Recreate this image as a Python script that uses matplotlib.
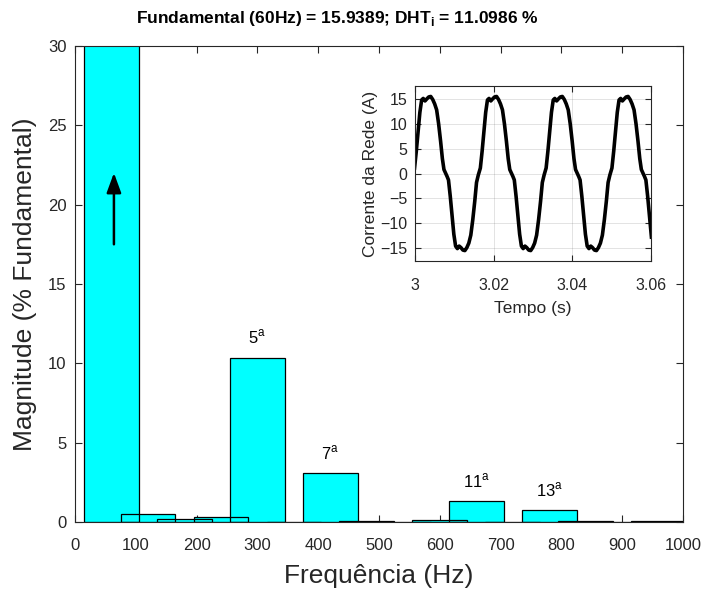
"""
Espectro harmonico da corrente da rede com a forma de onda no detalhe
"""

import matplotlib.pyplot as plt
from matplotlib.ticker import FixedLocator, FixedFormatter

plt.rcParams['font.family'] = ['Liberation Sans', 'DejaVu Sans']
plt.rcParams['mathtext.fontset'] = 'custom'
plt.rcParams['mathtext.rm'] = 'Liberation Sans'

# Espectro (% da fundamental), harmonicos de 60 Hz
freqs = [60, 120, 180, 240, 300, 360, 420, 480, 540, 600, 660, 720, 780, 840, 900, 960]
mags = [100.0, 0.49, 0.17, 0.32, 10.35, 0.0, 3.08, 0.06, 0.0, 0.15, 1.31, 0.0, 0.76, 0.06, 0.0, 0.05]

# Rotulos das harmonicas principais
label_freqs = [300, 420, 660, 780]
label_mags = [10.35, 3.08, 1.31, 0.76]
label_texts = ['5', '7', '11', '13']

x_ticks = [0, 100, 200, 300, 400, 500, 600, 700, 800, 900, 1000]
y_ticks = [0, 5, 10, 15, 20, 25, 30]

t_ms = [
    0.00, 0.45, 0.90, 1.35, 1.80, 2.20, 2.65, 3.10, 3.60, 4.10, 4.60, 5.10,
    5.60, 6.10, 6.60, 7.05, 7.45, 7.85, 8.25, 8.60, 9.05, 9.50, 9.95, 10.40,
    10.85, 11.30, 11.75, 12.25, 12.75, 13.25, 13.75, 14.25, 14.75, 15.25, 15.70, 16.15,
    16.67, 17.12, 17.57, 18.02, 18.47, 18.87, 19.32, 19.77, 20.27, 20.77, 21.27, 21.77,
    22.27, 22.77, 23.27, 23.72, 24.12, 24.52, 24.92, 25.27, 25.72, 26.17, 26.62, 27.07,
    27.52, 27.97, 28.42, 28.92, 29.42, 29.92, 30.42, 30.92, 31.42, 31.92, 32.37, 32.82,
    33.33, 33.78, 34.23, 34.68, 35.13, 35.53, 35.98, 36.43, 36.93, 37.43, 37.93, 38.43,
    38.93, 39.43, 39.93, 40.38, 40.78, 41.18, 41.58, 41.93, 42.38, 42.83, 43.28, 43.73,
    44.18, 44.63, 45.08, 45.58, 46.08, 46.58, 47.08, 47.58, 48.08, 48.58, 49.03, 49.48,
    50.00, 50.45, 50.90, 51.35, 51.80, 52.20, 52.65, 53.10, 53.60, 54.10, 54.60, 55.10,
    55.60, 56.10, 56.60, 57.05, 57.45, 57.85, 58.25, 58.60, 59.05, 59.50, 60.00,
]
i_rede = [
    1.1, 4.5, 8.5, 12.3, 14.8, 15.1, 14.6, 15.0, 15.4, 15.5, 14.9, 14.0,
    12.8, 10.0, 6.5, 3.0, 0.8, 0.1, -0.6, -1.3, -4.6, -8.5, -12.2, -14.6,
    -15.1, -14.6, -14.9, -15.4, -15.5, -14.9, -14.0, -12.4, -9.3, -5.6, -1.8, -0.3,
    1.1, 4.5, 8.5, 12.3, 14.8, 15.1, 14.6, 15.0, 15.4, 15.5, 14.9, 14.0,
    12.8, 10.0, 6.5, 3.0, 0.8, 0.1, -0.6, -1.3, -4.6, -8.5, -12.2, -14.6,
    -15.1, -14.6, -14.9, -15.4, -15.5, -14.9, -14.0, -12.4, -9.3, -5.6, -1.8, -0.3,
    1.1, 4.5, 8.5, 12.3, 14.8, 15.1, 14.6, 15.0, 15.4, 15.5, 14.9, 14.0,
    12.8, 10.0, 6.5, 3.0, 0.8, 0.1, -0.6, -1.3, -4.6, -8.5, -12.2, -14.6,
    -15.1, -14.6, -14.9, -15.4, -15.5, -14.9, -14.0, -12.4, -9.3, -5.6, -1.8, -0.3,
    1.1, 4.5, 8.5, 12.3, 14.8, 15.1, 14.6, 15.0, 15.4, 15.5, 14.9, 14.0,
    12.8, 10.0, 6.5, 3.0, 0.8, 0.1, -0.6, -1.3, -4.6, -8.5, -12.8,
]
inset_x_ticks = [3.0, 3.02, 3.04, 3.06]
inset_x_labels = ['3', '3.02', '3.04', '3.06']
inset_y_ticks = [-15, -10, -5, 0, 5, 10, 15]

AX_COLOR = '#262626'

fig = plt.figure(figsize=(7.05, 5.9), dpi=100)

# Eixo principal: espectro
ax = fig.add_axes([0.1064, 0.1153, 0.8624, 0.8068])
ax.bar(freqs, mags, width=90, color='cyan', edgecolor='none', zorder=2)
ax.bar(freqs, mags, width=90, fill=False, edgecolor='black', linewidth=0.9, zorder=3)

for f, m, txt in zip(label_freqs, label_mags, label_texts):
    ax.text(f, m + 0.7, txt + r'$^{\mathregular{a}}$', ha='center', va='bottom',
            fontsize=12, color='black', zorder=4)

# seta indicando que a fundamental continua
ax.annotate('', xy=(64, 22.0), xytext=(64, 17.5),
            arrowprops=dict(arrowstyle='-|>,head_length=0.6,head_width=0.22',
                            mutation_scale=20, color='black', lw=1.8,
                            shrinkA=0, shrinkB=0), zorder=5)

ax.set_xlim(0, 1000)
ax.set_ylim(0, 30)
ax.set_xticks(x_ticks)
ax.set_yticks(y_ticks)
ax.tick_params(direction='in', top=True, right=True, length=5, width=0.8,
               labelsize=12, colors=AX_COLOR, pad=6)
ax.tick_params(axis='x', pad=11.5)
for sp in ax.spines.values():
    sp.set_color(AX_COLOR)
    sp.set_linewidth(0.8)
    sp.set_zorder(6)
ax.set_xlabel('Frequência (Hz)', fontsize=19, color=AX_COLOR, labelpad=8)
ax.set_ylabel('Magnitude (% Fundamental)', fontsize=19, color=AX_COLOR, labelpad=8)

fig.text(0.478, 0.968, r'Fundamental (60Hz) = 15.9389; DHT$_{\mathregular{i}}$ = 11.0986 %',
         ha='center', va='center', fontsize=12.5, fontweight='bold', color='black')

# Detalhe: corrente da rede no tempo
ax2 = fig.add_axes([0.588, 0.5576, 0.336, 0.2966])
t_s = [3.0 + v / 1000.0 for v in t_ms]
ax2.plot(t_s, i_rede, color='black', linewidth=2.6, solid_joinstyle='round')
ax2.set_xlim(3.0, 3.06)
ax2.set_ylim(-17.6, 17.6)
ax2.xaxis.set_major_locator(FixedLocator(inset_x_ticks))
ax2.xaxis.set_major_formatter(FixedFormatter(inset_x_labels))
ax2.set_yticks(inset_y_ticks)
ax2.grid(True, color=AX_COLOR, alpha=0.15, linewidth=0.6)
ax2.tick_params(direction='in', top=True, right=True, length=4, width=0.8,
                labelsize=11.5, colors=AX_COLOR, pad=5)
ax2.tick_params(axis='x', pad=12)
for sp in ax2.spines.values():
    sp.set_color(AX_COLOR)
    sp.set_linewidth(0.8)
ax2.set_xlabel('Tempo (s)', fontsize=12.5, color=AX_COLOR, labelpad=6)
ax2.set_ylabel('Corrente da Rede (A)', fontsize=12.5, color=AX_COLOR, labelpad=2)

plt.savefig('out.png', dpi=100)
plt.close()
